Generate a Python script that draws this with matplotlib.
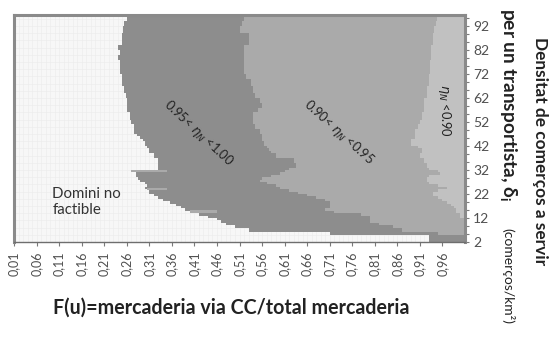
import matplotlib
matplotlib.use("Agg")
import matplotlib.pyplot as plt
import numpy as np

# Shop density per carrier (comerços/km²) at which each boundary is read
density = [2, 5, 6, 8, 9, 10, 11, 12, 13, 14, 15, 16, 17, 18, 19, 20, 21, 22,
           23, 24, 25, 26, 27, 28, 29, 30, 31, 32, 33, 35, 37, 39, 40, 41, 42,
           44, 45, 46, 47, 49, 51, 53, 56, 58, 60, 62, 64, 67, 70, 72, 75, 78,
           80, 82, 84, 86, 89, 92, 94, 96, 98]
# F(u) where the infeasible domain ends
f_feasible = [0.93, 0.71, 0.53, 0.50, 0.48, 0.47, 0.46, 0.44, 0.42, 0.40, 0.39,
              0.38, 0.37, 0.355, 0.34, 0.33, 0.32, 0.31, 0.31, 0.30, 0.305, 0.30,
              0.29, 0.285, 0.28, 0.28, 0.27, 0.33, 0.33, 0.33, 0.32, 0.31, 0.31,
              0.305, 0.30, 0.296, 0.29, 0.283, 0.275, 0.275, 0.27, 0.267, 0.26,
              0.26, 0.26, 0.258, 0.255, 0.25, 0.25, 0.245, 0.245, 0.24, 0.245,
              0.24, 0.25, 0.25, 0.252, 0.255, 0.26, 0.261, 0.261]
# F(u) where 0.95<ηN<1.00 gives way to 0.90<ηN<0.95
f_eta095 = [1.01, 0.95, 0.87, 0.85, 0.82, 0.80, 0.80, 0.80, 0.78, 0.72, 0.70,
            0.71, 0.71, 0.71, 0.70, 0.68, 0.66, 0.64, 0.62, 0.60, 0.59, 0.57,
            0.555, 0.56, 0.58, 0.60, 0.61, 0.62, 0.635, 0.63, 0.59, 0.58, 0.575,
            0.57, 0.565, 0.56, 0.56, 0.56, 0.555, 0.545, 0.54, 0.54, 0.55, 0.56,
            0.555, 0.545, 0.54, 0.535, 0.525, 0.52, 0.52, 0.52, 0.52, 0.52, 0.53,
            0.53, 0.51, 0.515, 0.52, 0.53, 0.53]
# F(u) where 0.90<ηN<0.95 gives way to ηN<0.90
f_eta090 = [1.01, 1.01, 1.01, 1.01, 1.01, 1.01, 1.01, 1.00, 1.00, 0.99, 0.99,
            0.985, 0.98, 0.97, 0.96, 0.95, 0.94, 0.94, 0.95, 0.97, 0.95, 0.93,
            0.925, 0.925, 0.93, 0.955, 0.95, 0.93, 0.926, 0.92, 0.91, 0.915,
            0.915, 0.905, 0.89, 0.89, 0.90, 0.90, 0.90, 0.905, 0.91, 0.915, 0.92,
            0.92, 0.92, 0.925, 0.925, 0.93, 0.93, 0.932, 0.932, 0.935, 0.935,
            0.935, 0.939, 0.939, 0.942, 0.945, 0.948, 0.948, 0.948]

# Isolated strips of 0.90<ηN<0.95 along the feasibility edge
strip_density = [14, 23.5, 31]
strip_start = [0.40, 0.305, 0.27]
strip_end = [0.46, 0.35, 0.35]

x_ticks = [0.01, 0.06, 0.11, 0.16, 0.21, 0.26, 0.31, 0.36, 0.41, 0.46, 0.51,
           0.56, 0.61, 0.66, 0.71, 0.76, 0.81, 0.86, 0.91, 0.96]
x_labels = ["0,01", "0,06", "0,11", "0,16", "0,21", "0,26", "0,31", "0,36",
            "0,41", "0,46", "0,51", "0,56", "0,61", "0,66", "0,71", "0,76",
            "0,81", "0,86", "0,91", "0,96"]
y_ticks = [2, 12, 22, 32, 42, 52, 62, 72, 82, 92]
y_labels = ["2", "12", "22", "32", "42", "52", "62", "72", "82", "92"]

FONT = ["Lato", "DejaVu Sans"]
plt.rcParams["font.family"] = FONT
plt.rcParams["mathtext.fontset"] = "dejavusans"

C_INFEASIBLE = "#f7f7f7"
C_095 = "#8d8d8d"
C_090 = "#aaaaaa"
C_LOW = "#c1c1c1"
TICK_COLOR = "#505050"

fig = plt.figure(figsize=(5.51, 3.42), dpi=100)
ax = fig.add_axes([14 / 551, 1 - 242 / 342, (465 - 14) / 551, (242 - 15) / 342])
ax.set_facecolor(C_INFEASIBLE)

XMIN, XMAX = 0.01, 1.01
YMIN, YMAX = 2, 96.6

# faint cell grid of the infeasible domain
for gx in np.arange(0.01, 1.01, 0.01):
    ax.axvline(gx, color="#ebebeb", lw=0.4, zorder=0)
for gy in np.arange(2, 98, 3):
    ax.axhline(gy, color="#ebebeb", lw=0.4, zorder=0)

y = np.array(density, dtype=float)
b1 = np.array(f_feasible)
b2 = np.array(f_eta095)
b3 = np.array(f_eta090)

ax.fill_betweenx(y, b1, b2, step="post", color=C_095, lw=0, zorder=2)
ax.fill_betweenx(y, b2, b3, step="post", color=C_090, lw=0, zorder=2)
ax.fill_betweenx(y, b3, np.full_like(b3, XMAX), step="post", color=C_LOW,
                 lw=0, zorder=2)
ax.barh(strip_density, np.array(strip_end) - np.array(strip_start),
        left=strip_start, height=1.2, align="edge", color=C_090, lw=0, zorder=3)

ax.set_xlim(XMIN, XMAX)
ax.set_ylim(YMIN, YMAX)

# axes frame
for side in ("left", "top", "right"):
    ax.spines[side].set_color("#8a8a8a")
    ax.spines[side].set_linewidth(2.2)
ax.spines["bottom"].set_color("#6e6e6e")
ax.spines["bottom"].set_linewidth(1.0)
for s in ax.spines.values():
    s.set_zorder(5)

ax.set_xticks(x_ticks)
ax.set_xticklabels(x_labels, rotation=90, fontsize=9, color=TICK_COLOR)
ax.tick_params(axis="x", direction="out", length=3, width=0.8,
               color="#7a7a7a", pad=4)
ax.yaxis.tick_right()
ax.set_yticks(y_ticks)
ax.set_yticklabels(y_labels, fontsize=10, color=TICK_COLOR)
ax.set_yticks(np.arange(2, 97, 10 / 3), minor=True)
ax.tick_params(axis="y", which="both", direction="out", length=3, width=0.8,
               color="#7a7a7a", pad=3)
ax.tick_params(axis="x", which="minor", length=0)

# region annotations
ax.text(0.095, 18.7, "Domini no\nfactible", fontsize=10.8, color="#333333",
        ha="left", va="center", linespacing=1.2, zorder=6)
ax.text(0.42, 47.5, "0.95< $\\eta_N$ <1.00", fontsize=9.3, color="#222222",
        rotation=-43, ha="center", va="center", rotation_mode="anchor", zorder=6)
ax.text(0.73, 47.5, "0.90< $\\eta_N$ <0.95", fontsize=9.3, color="#222222",
        rotation=-42, ha="center", va="center", rotation_mode="anchor", zorder=6)
ax.text(0.965, 57.0, "$\\eta_N$ <0.90", fontsize=9.3, color="#222222",
        rotation=-90, ha="center", va="center", zorder=6)

# axis titles
fig.text(231 / 551, 1 - 308 / 342, "F(u)=mercaderia via CC/total mercaderia",
         fontsize=14.1, fontweight="bold", color="#222222", ha="center",
         va="center")
fig.text(540 / 551, 1 - 151 / 342, "Densitat de comerços a servir",
         fontsize=12.4, fontweight="bold", color="#222222", ha="center",
         va="center", rotation=-90)
fig.text(508 / 551, 1 - 8 / 342,
         "per un transportista, δ$_{\\mathregular{i}}$",
         fontsize=13.8, fontweight="bold", color="#222222", ha="center",
         va="top", rotation=-90)
fig.text(508 / 551, 1 - 228 / 342, "(comerços/km²)",
         fontsize=10, color="#222222", ha="center", va="top", rotation=-90)

fig.savefig("out.png", dpi=100)
